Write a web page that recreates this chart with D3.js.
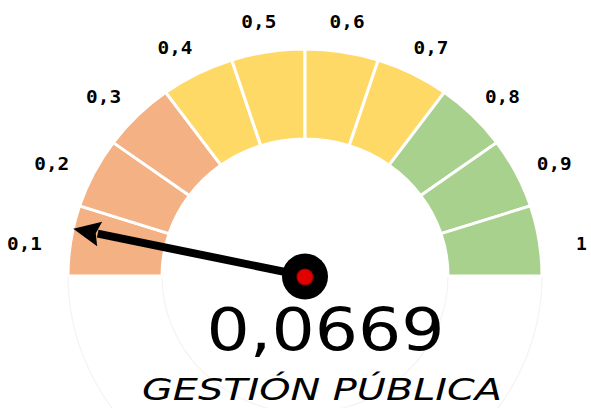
<!DOCTYPE html>
<html>
<head>
<meta charset="utf-8">
<script src="https://cdn.jsdelivr.net/npm/d3@7"></script>
<style>
  html, body { margin: 0; padding: 0; background: #ffffff; }
  svg { display: block; }
</style>
</head>
<body>
<svg id="chart" width="591" height="408"></svg>
<script>
// Gauge bands (upper bound of each band) and their colours
const bandLimits = [0, 0.1, 0.2, 0.3, 0.4, 0.5, 0.6, 0.7, 0.8, 0.9, 1];
const bandColors = ["#F4B183", "#F4B183", "#F4B183",
                    "#FFD966", "#FFD966", "#FFD966", "#FFD966",
                    "#A9D18E", "#A9D18E", "#A9D18E"];
const tickLabels = ["0,1", "0,2", "0,3", "0,4", "0,5", "0,6", "0,7", "0,8", "0,9", "1"];
const gaugeValue = 0.0669;
const valueText = "0,0669";
const gaugeTitle = "GESTIÓN PÚBLICA";

const svg = d3.select("#chart");

// Dial geometry
const cx = 305, cy = 276;
const outerR = 237, innerR = 143;
const squash = 0.958;               // vertical scale of the dial

// Value -> angle (d3.arc convention: 0 at top, clockwise)
const angle = d3.scaleLinear().domain([0, 1]).range([-Math.PI / 2, Math.PI / 2]);

const dial = svg.append("g")
  .attr("transform", `translate(${cx},${cy}) scale(1,${squash})`);

const arc = d3.arc().innerRadius(innerR).outerRadius(outerR);

// Lower, hidden half of the ring
dial.append("path")
  .attr("d", arc({ startAngle: Math.PI / 2, endAngle: Math.PI * 1.5 }))
  .attr("fill", "#ffffff")
  .attr("stroke", "#f3f3f3")
  .attr("stroke-width", 1.2);

// Coloured bands
const bands = d3.range(bandLimits.length - 1).map(i => ({
  from: bandLimits[i], to: bandLimits[i + 1], color: bandColors[i]
}));

dial.selectAll("path.band")
  .data(bands)
  .join("path")
  .attr("class", "band")
  .attr("d", d => arc({ startAngle: angle(d.from), endAngle: angle(d.to) }))
  .attr("fill", d => d.color)
  .attr("stroke", "#ffffff")
  .attr("stroke-width", 3);

// Tick labels, placed on an ellipse at each band's middle
const lblCx = 303, lblCy = 285, lblRx = 282, lblRy = 267;
svg.selectAll("text.tick")
  .data(bands)
  .join("text")
  .attr("class", "tick")
  .attr("x", d => lblCx + lblRx * Math.sin(angle((d.from + d.to) / 2)))
  .attr("y", d => lblCy - lblRy * Math.cos(angle((d.from + d.to) / 2)) + 6.5)
  .attr("text-anchor", "middle")
  .attr("font-family", "'DejaVu Sans Mono', monospace")
  .attr("font-weight", "bold")
  .attr("font-size", 18)
  .attr("fill", "#000000")
  .each(function (d, i) {
    const t = d3.select(this).text(tickLabels[i]);
    if (tickLabels[i].length === 3) t.attr("textLength", 35).attr("lengthAdjust", "spacingAndGlyphs");
  });

// Needle
const a = angle(gaugeValue);
const tip = [cx + outerR * Math.sin(a), cy - outerR * Math.cos(a) * squash];
const dx = tip[0] - cx, dy = tip[1] - cy;
const len = Math.hypot(dx, dy);
const ux = dx / len, uy = dy / len;        // along needle
const px = -uy, py = ux;                    // perpendicular
const headLen = 27, headHalf = 12.5;
const base = [tip[0] - ux * headLen, tip[1] - uy * headLen];

svg.append("line")
  .attr("x1", cx).attr("y1", cy)
  .attr("x2", base[0] + ux * 2).attr("y2", base[1] + uy * 2)
  .attr("stroke", "#000000")
  .attr("stroke-width", 8);

svg.append("path")
  .attr("d", d3.line()([
    tip,
    [base[0] + px * headHalf, base[1] + py * headHalf],
    [base[0] + ux * 4, base[1] + uy * 4],
    [base[0] - px * headHalf, base[1] - py * headHalf]
  ]) + "Z")
  .attr("fill", "#000000");

// Hub
svg.append("circle")
  .attr("cx", cx).attr("cy", cy + 0.5).attr("r", 23)
  .attr("fill", "#000000");
svg.append("circle")
  .attr("cx", cx).attr("cy", cy + 1).attr("r", 8)
  .attr("fill", "#e00000")
  .attr("stroke", "#a00000")
  .attr("stroke-width", 1.2);

// Value readout
svg.append("text")
  .attr("x", 325.5).attr("y", 350)
  .attr("text-anchor", "middle")
  .attr("font-family", "'DejaVu Sans', sans-serif")
  .attr("font-size", 58)
  .attr("textLength", 238)
  .attr("lengthAdjust", "spacingAndGlyphs")
  .attr("fill", "#000000")
  .text(valueText);

// Title
svg.append("text")
  .attr("x", 322).attr("y", 400)
  .attr("text-anchor", "middle")
  .attr("font-family", "'DejaVu Sans', sans-serif")
  .attr("font-style", "italic")
  .attr("font-size", 30)
  .attr("textLength", 360)
  .attr("lengthAdjust", "spacingAndGlyphs")
  .attr("fill", "#000000")
  .text(gaugeTitle);
</script>
</body>
</html>
